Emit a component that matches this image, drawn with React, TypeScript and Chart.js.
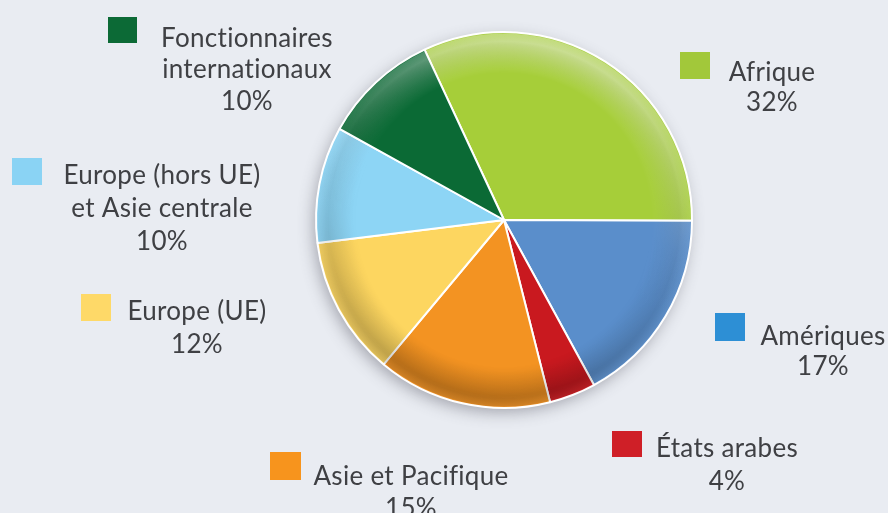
import React, { useEffect, useRef } from 'react';
import { Chart, registerables } from 'chart.js';

Chart.register(...registerables);

// ---- data ----
const categories = [
  'Afrique',
  'Amériques',
  'États arabes',
  'Asie et Pacifique',
  'Europe (UE)',
  'Europe (hors UE) et Asie centrale',
  'Fonctionnaires internationaux',
];
const shares = [32, 17, 4, 15, 12, 10, 10];
const labelLines = [
  ['Afrique'],
  ['Amériques'],
  ['États arabes'],
  ['Asie et Pacifique'],
  ['Europe (UE)'],
  ['Europe (hors UE)', 'et Asie centrale'],
  ['Fonctionnaires', 'internationaux'],
];
const sliceColors = ['#a6ce39', '#5a8ecb', '#c9191f', '#f39322', '#fdd660', '#8dd5f5', '#0b6a35'];
const keyColors = ['#a2c83a', '#2d8fd5', '#cf1f27', '#f7941d', '#fed968', '#8ad3f4', '#0c6a36'];

// ---- layout (style only) ----
const labelLayout = [
  { sq: [680, 52, 30, 27], cx: 772, y: [81, 111] },
  { sq: [715, 313, 30, 28], cx: 823, y: [345, 375] },
  { sq: [612, 431, 30, 26], cx: 727, y: [457, 490] },
  { sq: [270, 452, 31, 28], cx: 411, y: [485, 517] },
  { sq: [81, 294, 30, 27], cx: 197, y: [320, 353] },
  { sq: [12, 158, 30, 27], cx: 162, y: [184, 217, 250] },
  { sq: [108, 17, 29, 26], cx: 247, y: [47, 78, 110] },
];

const BG = '#e9ecf2';
const FONT = '26px Lato, "Liberation Sans", sans-serif';

function shade(hex: string, f: number): string {
  const n = parseInt(hex.slice(1), 16);
  let r = (n >> 16) & 255, g = (n >> 8) & 255, b = n & 255;
  if (f < 0) {
    r = r * (1 + f); g = g * (1 + f); b = b * (1 + f);
  } else {
    r = r + (255 - r) * f; g = g + (255 - g) * f; b = b + (255 - b) * f;
  }
  return `rgb(${Math.round(r)},${Math.round(g)},${Math.round(b)})`;
}

function geom(chart: any) {
  const meta = chart.getDatasetMeta(0);
  const arc = meta.data[0];
  if (!arc) return null;
  return { x: arc.x, y: arc.y, r: arc.outerRadius };
}

const shadowPlugin = {
  id: 'pieShadow',
  beforeDatasetsDraw(chart: any) {
    const g = geom(chart);
    if (!g) return;
    const ctx = chart.ctx;
    ctx.save();
    ctx.shadowColor = 'rgba(70,72,85,0.45)';
    ctx.shadowBlur = 16;
    ctx.shadowOffsetX = -3;
    ctx.shadowOffsetY = 5;
    ctx.beginPath();
    ctx.arc(g.x, g.y, g.r - 1, 0, Math.PI * 2);
    ctx.fillStyle = BG;
    ctx.fill();
    ctx.restore();
  },
};

const bevelPlugin = {
  id: 'pieBevel',
  afterDatasetsDraw(chart: any) {
    const g = geom(chart);
    if (!g) return;
    const w = chart.width, h = chart.height;
    const off = document.createElement('canvas');
    off.width = w; off.height = h;
    const o = off.getContext('2d')!;
    const lin = o.createLinearGradient(g.x + g.r * 0.3, g.y - g.r, g.x - g.r * 0.3, g.y + g.r);
    lin.addColorStop(0, 'rgba(255,255,255,0.5)');
    lin.addColorStop(0.45, 'rgba(255,255,255,0.05)');
    lin.addColorStop(0.6, 'rgba(0,0,0,0.04)');
    lin.addColorStop(1, 'rgba(0,0,0,0.22)');
    o.fillStyle = lin;
    o.fillRect(0, 0, w, h);
    o.globalCompositeOperation = 'destination-in';
    const rad = o.createRadialGradient(g.x, g.y, 0, g.x, g.y, g.r);
    rad.addColorStop(0, 'rgba(0,0,0,0)');
    rad.addColorStop(0.78, 'rgba(0,0,0,0)');
    rad.addColorStop(0.95, 'rgba(0,0,0,1)');
    rad.addColorStop(1, 'rgba(0,0,0,0.6)');
    o.fillStyle = rad;
    o.beginPath();
    o.arc(g.x, g.y, g.r - 1.5, 0, Math.PI * 2);
    o.fill();
    const ctx = chart.ctx;
    ctx.save();
    ctx.drawImage(off, 0, 0, w, h);
    ctx.restore();
  },
};

const labelPlugin = {
  id: 'sideLabels',
  afterDraw(chart: any) {
    const ctx = chart.ctx;
    ctx.save();
    ctx.font = FONT;
    ctx.textAlign = 'center';
    ctx.textBaseline = 'alphabetic';
    try {
      (ctx as any).textRendering = 'optimizeSpeed';
      (ctx as any).letterSpacing = '0.3px';
    } catch (e) {
      /* ignore */
    }
    categories.forEach((_, i) => {
      const L = labelLayout[i];
      ctx.fillStyle = keyColors[i];
      ctx.fillRect(L.sq[0], L.sq[1], L.sq[2], L.sq[3]);
      ctx.fillStyle = '#3f4044';
      const lines = [...labelLines[i], `${shares[i]}%`];
      lines.forEach((t, k) => ctx.fillText(t, L.cx, L.y[k]));
    });
    ctx.restore();
  },
};

export default function App() {
  const ref = useRef<HTMLCanvasElement | null>(null);
  useEffect(() => {
    document.body.style.margin = '0';
    document.body.style.background = BG;
    const canvas = ref.current;
    if (!canvas) return;
    const chart = new Chart(canvas, {
      type: 'pie',
      data: {
        labels: categories,
        datasets: [
          {
            data: shares,
            borderColor: '#ffffff',
            borderWidth: 2,
            backgroundColor: (c: any) => {
              const base = sliceColors[c.dataIndex];
              const ch = c.chart;
              const a = ch.chartArea;
              if (!a) return base;
              const cx = (a.left + a.right) / 2;
              const cy = (a.top + a.bottom) / 2;
              const r = Math.min(a.right - a.left, a.bottom - a.top) / 2;
              const gr = ch.ctx.createRadialGradient(cx, cy, 0, cx, cy, r);
              gr.addColorStop(0, base);
              gr.addColorStop(0.8, base);
              gr.addColorStop(0.93, shade(base, -0.08));
              gr.addColorStop(1, shade(base, 0.05));
              return gr;
            },
          },
        ],
      },
      options: {
        responsive: false,
        maintainAspectRatio: false,
        animation: false,
        rotation: -25,
        layout: { padding: { left: 315, right: 195, top: 31, bottom: 104 } },
        plugins: {
          legend: { display: false },
          tooltip: { enabled: false },
        },
      },
      plugins: [shadowPlugin, bevelPlugin, labelPlugin],
    });
    return () => chart.destroy();
  }, []);
  return (
    <div style={{ width: 888, height: 513, background: BG, overflow: 'hidden' }}>
      <canvas ref={ref} width={888} height={513} style={{ display: 'block' }} />
    </div>
  );
}
